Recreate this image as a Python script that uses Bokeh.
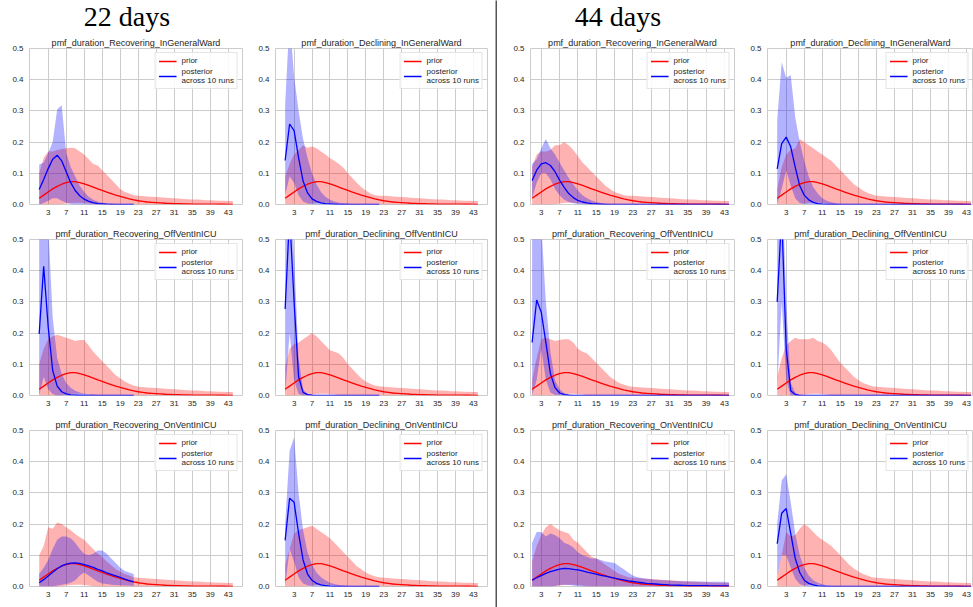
from bokeh.plotting import figure
from bokeh.models import Range1d, FixedTicker, PrintfTickFormatter, Legend, LegendItem, Div
from bokeh.layouts import row, column
from bokeh.embed import file_html
from bokeh.resources import INLINE

# ---------------- data ----------------
days = [1, 2, 3, 4, 5, 6, 7, 8, 9, 10, 11,
        12, 13, 14, 15, 16, 17, 18, 19, 20, 21, 22,
        23, 24, 25, 26, 27, 28, 29, 30, 31, 32, 33,
        34, 35, 36, 37, 38, 39, 40, 41, 42, 43, 44]
x_ticks = [3, 7, 11, 15, 19, 23, 27, 31, 35, 39, 43]
y_ticks = [0.0, 0.1, 0.2, 0.3, 0.4, 0.5]
group_titles = ["22 days", "44 days"]
panel_titles = ["pmf_duration_Recovering_InGeneralWard", "pmf_duration_Declining_InGeneralWard",
                "pmf_duration_Recovering_OffVentInICU", "pmf_duration_Declining_OffVentInICU",
                "pmf_duration_Recovering_OnVentInICU", "pmf_duration_Declining_OnVentInICU"]
legend_labels = ["prior", "posterior\nacross 10 runs"]

prior_mean = [0.020, 0.030, 0.040, 0.050, 0.058, 0.065, 0.070, 0.073, 0.073, 0.070, 0.066,
              0.061, 0.056, 0.050, 0.045, 0.040, 0.035, 0.030, 0.026, 0.022, 0.018, 0.015,
              0.012, 0.010, 0.008, 0.007, 0.006, 0.005, 0.004, 0.0035, 0.003, 0.0025, 0.002,
              0.002, 0.0015, 0.0015, 0.001, 0.001, 0.001, 0.001, 0.0008, 0.0008, 0.0007, 0.0007]
prior_lo = [0, 0, 0, 0, 0, 0.001, 0.003, 0.005, 0.006, 0.006, 0.005,
            0.003, 0.001, 0, 0, 0, 0, 0, 0, 0, 0, 0,
            0, 0, 0, 0, 0, 0, 0, 0, 0, 0, 0,
            0, 0, 0, 0, 0, 0, 0, 0, 0, 0, 0]
prior_hi_tail = [0.028, 0.027, 0.026, 0.025, 0.024, 0.023, 0.022, 0.021, 0.020, 0.019, 0.018,
                 0.017, 0.016, 0.016, 0.015, 0.014, 0.014, 0.013, 0.012, 0.012, 0.011, 0.011]

# ----- 22 days -----
d22_rec_ward_prior_hi = [0.10, 0.15, 0.17, 0.17, 0.175, 0.178, 0.18, 0.182, 0.18, 0.17, 0.16,
                         0.145, 0.13, 0.125, 0.11, 0.095, 0.08, 0.065, 0.05, 0.04, 0.035, 0.03]
d22_rec_ward_mean = [0.048, 0.08, 0.115, 0.145, 0.158, 0.14, 0.105, 0.07, 0.045, 0.028, 0.017,
                     0.01, 0.006, 0.003, 0.002, 0.001, 0.0005, 0, 0, 0, 0, 0]
d22_rec_ward_lo = [0, 0.005, 0.012, 0.02, 0.02, 0.012, 0.006, 0.002, 0, 0, 0,
                   0, 0, 0, 0, 0, 0, 0, 0, 0, 0, 0]
d22_rec_ward_hi = [0.128, 0.135, 0.165, 0.2, 0.305, 0.318, 0.165, 0.12, 0.09, 0.06, 0.04,
                   0.025, 0.015, 0.01, 0.006, 0.004, 0.003, 0.002, 0.002, 0.001, 0.001, 0.001]

d22_dec_ward_prior_hi = [0.09, 0.13, 0.16, 0.175, 0.19, 0.182, 0.186, 0.18, 0.17, 0.16, 0.148,
                         0.14, 0.13, 0.118, 0.1, 0.085, 0.07, 0.055, 0.045, 0.035, 0.03, 0.028]
d22_dec_ward_mean = [0.141, 0.258, 0.237, 0.15, 0.075, 0.037, 0.018, 0.01, 0.005, 0.003, 0.002,
                     0.001, 0, 0, 0, 0, 0, 0, 0, 0, 0, 0]
d22_dec_ward_lo = [0.03, 0.09, 0.07, 0.03, 0.01, 0.003, 0, 0, 0, 0, 0,
                   0, 0, 0, 0, 0, 0, 0, 0, 0, 0, 0]
d22_dec_ward_hi = [0.32, 0.6, 0.41, 0.3, 0.21, 0.15, 0.1, 0.065, 0.04, 0.025, 0.015,
                   0.01, 0.006, 0.004, 0.003, 0.002, 0.001, 0.001, 0.001, 0.001, 0.001, 0.001]

d22_rec_off_prior_hi = [0.10, 0.15, 0.18, 0.19, 0.195, 0.19, 0.185, 0.18, 0.175, 0.178, 0.178,
                        0.16, 0.14, 0.125, 0.11, 0.095, 0.08, 0.065, 0.055, 0.045, 0.038, 0.032]
d22_rec_off_mean = [0.197, 0.414, 0.22, 0.08, 0.03, 0.012, 0.005, 0.002, 0.001, 0, 0,
                    0, 0, 0, 0, 0, 0, 0, 0, 0, 0, 0]
d22_rec_off_lo = [0, 0.06, 0.02, 0.005, 0, 0, 0, 0, 0, 0, 0,
                  0, 0, 0, 0, 0, 0, 0, 0, 0, 0, 0]
d22_rec_off_hi = [0.6, 0.65, 0.55, 0.25, 0.12, 0.07, 0.04, 0.025, 0.015, 0.01, 0.006,
                  0.004, 0.003, 0.002, 0.001, 0.001, 0.001, 0.001, 0.001, 0.001, 0.001, 0.001]

d22_dec_off_prior_hi = [0.09, 0.15, 0.165, 0.17, 0.18, 0.19, 0.2, 0.19, 0.175, 0.16, 0.145,
                        0.14, 0.135, 0.12, 0.1, 0.085, 0.07, 0.055, 0.045, 0.038, 0.032, 0.03]
d22_dec_off_mean = [0.277, 0.58, 0.3, 0.06, 0.01, 0.003, 0.001, 0, 0, 0, 0,
                    0, 0, 0, 0, 0, 0, 0, 0, 0, 0, 0]
d22_dec_off_lo = [0, 0.2, 0.05, 0.005, 0, 0, 0, 0, 0, 0, 0,
                  0, 0, 0, 0, 0, 0, 0, 0, 0, 0, 0]
d22_dec_off_hi = [0.55, 0.75, 0.45, 0.12, 0.02, 0.005, 0.002, 0, 0, 0, 0,
                  0, 0, 0, 0, 0, 0, 0, 0, 0, 0, 0]

d22_rec_on_prior_hi = [0.10, 0.13, 0.19, 0.185, 0.205, 0.2, 0.19, 0.18, 0.168, 0.158, 0.15,
                       0.135, 0.12, 0.105, 0.095, 0.08, 0.068, 0.055, 0.047, 0.04, 0.035, 0.03]
d22_rec_on_mean = [0.012, 0.022, 0.034, 0.046, 0.057, 0.066, 0.072, 0.075, 0.076, 0.074, 0.070,
                   0.066, 0.061, 0.055, 0.050, 0.044, 0.039, 0.034, 0.029, 0.024, 0.019, 0.015]
d22_rec_on_lo = [0, 0, 0, 0, 0.003, 0.006, 0.008, 0.012, 0.02, 0.035, 0.045,
                 0.035, 0.025, 0.015, 0.01, 0.008, 0.006, 0.005, 0.004, 0.003, 0.003, 0.002]
d22_rec_on_hi = [0.04, 0.06, 0.085, 0.12, 0.15, 0.16, 0.16, 0.155, 0.14, 0.12, 0.105,
                 0.1, 0.105, 0.115, 0.115, 0.105, 0.09, 0.075, 0.06, 0.05, 0.045, 0.04]

d22_dec_on_prior_hi = [0.07, 0.12, 0.17, 0.18, 0.185, 0.19, 0.195, 0.185, 0.175, 0.165, 0.155,
                       0.14, 0.125, 0.11, 0.095, 0.08, 0.065, 0.055, 0.045, 0.038, 0.033, 0.03]
d22_dec_on_mean = [0.148, 0.283, 0.27, 0.17, 0.085, 0.04, 0.02, 0.01, 0.005, 0.003, 0.001,
                   0, 0, 0, 0, 0, 0, 0, 0, 0, 0, 0]
d22_dec_on_lo = [0, 0.12, 0.08, 0.03, 0.01, 0.004, 0.001, 0, 0, 0, 0,
                 0, 0, 0, 0, 0, 0, 0, 0, 0, 0, 0]
d22_dec_on_hi = [0.2, 0.435, 0.478, 0.3, 0.18, 0.11, 0.07, 0.045, 0.03, 0.02, 0.012,
                 0.008, 0.005, 0.003, 0.002, 0.001, 0.001, 0.001, 0.001, 0.001, 0.001, 0.001]

# ----- 44 days -----
d44_rec_ward_prior_hi = [0.12, 0.16, 0.17, 0.17, 0.175, 0.19, 0.19, 0.2, 0.19, 0.175, 0.155,
                         0.135, 0.12, 0.105, 0.09, 0.075, 0.06, 0.05, 0.04, 0.035, 0.03, 0.028]
d44_rec_ward_mean = [0.077, 0.11, 0.13, 0.134, 0.125, 0.105, 0.078, 0.055, 0.035, 0.022, 0.013,
                     0.008, 0.005, 0.003, 0.002, 0.001, 0, 0, 0, 0, 0, 0,
                     0, 0, 0, 0, 0, 0, 0, 0, 0, 0, 0,
                     0, 0, 0, 0, 0, 0, 0, 0, 0, 0, 0]
d44_rec_ward_lo = [0.02, 0.07, 0.1, 0.1, 0.08, 0.05, 0.03, 0.015, 0.008, 0.004, 0.002,
                   0, 0, 0, 0, 0, 0, 0, 0, 0, 0, 0,
                   0, 0, 0, 0, 0, 0, 0, 0, 0, 0, 0,
                   0, 0, 0, 0, 0, 0, 0, 0, 0, 0, 0]
d44_rec_ward_hi = [0.13, 0.145, 0.18, 0.21, 0.18, 0.16, 0.135, 0.11, 0.085, 0.065, 0.045,
                   0.03, 0.02, 0.013, 0.008, 0.005, 0.003, 0.002, 0.001, 0, 0, 0,
                   0, 0, 0, 0, 0, 0, 0, 0, 0, 0, 0,
                   0, 0, 0, 0, 0, 0, 0, 0, 0, 0, 0]

d44_dec_ward_prior_hi = [0.05, 0.12, 0.16, 0.175, 0.18, 0.21, 0.2, 0.19, 0.18, 0.17, 0.16,
                         0.15, 0.14, 0.125, 0.11, 0.095, 0.08, 0.065, 0.055, 0.045, 0.038, 0.032]
d44_dec_ward_mean = [0.114, 0.195, 0.216, 0.185, 0.12, 0.06, 0.03, 0.015, 0.007, 0.003, 0.001,
                     0, 0, 0, 0, 0, 0, 0, 0, 0, 0, 0,
                     0, 0, 0, 0, 0, 0, 0, 0, 0, 0, 0,
                     0, 0, 0, 0, 0, 0, 0, 0, 0, 0, 0]
d44_dec_ward_lo = [0, 0.05, 0.11, 0.06, 0.02, 0.005, 0.001, 0, 0, 0, 0,
                   0, 0, 0, 0, 0, 0, 0, 0, 0, 0, 0,
                   0, 0, 0, 0, 0, 0, 0, 0, 0, 0, 0,
                   0, 0, 0, 0, 0, 0, 0, 0, 0, 0, 0]
d44_dec_ward_hi = [0.27, 0.456, 0.406, 0.415, 0.28, 0.2, 0.14, 0.09, 0.055, 0.035, 0.02,
                   0.012, 0.007, 0.004, 0.002, 0.001, 0, 0, 0, 0, 0, 0,
                   0, 0, 0, 0, 0, 0, 0, 0, 0, 0, 0,
                   0, 0, 0, 0, 0, 0, 0, 0, 0, 0, 0]

d44_rec_off_prior_hi = [0.05, 0.12, 0.18, 0.185, 0.18, 0.175, 0.178, 0.18, 0.18, 0.17, 0.15,
                        0.14, 0.135, 0.12, 0.105, 0.09, 0.075, 0.06, 0.05, 0.04, 0.035, 0.03]
d44_rec_off_mean = [0.17, 0.306, 0.267, 0.17, 0.07, 0.025, 0.008, 0.003, 0.001, 0, 0,
                    0, 0, 0, 0, 0, 0, 0, 0, 0, 0, 0,
                    0, 0, 0, 0, 0, 0, 0, 0, 0, 0, 0,
                    0, 0, 0, 0, 0, 0, 0, 0, 0, 0, 0]
d44_rec_off_lo = [0, 0.05, 0.15, 0.05, 0.01, 0.002, 0, 0, 0, 0, 0,
                  0, 0, 0, 0, 0, 0, 0, 0, 0, 0, 0,
                  0, 0, 0, 0, 0, 0, 0, 0, 0, 0, 0,
                  0, 0, 0, 0, 0, 0, 0, 0, 0, 0, 0]
d44_rec_off_hi = [0.55, 0.65, 0.55, 0.3, 0.14, 0.05, 0.02, 0.008, 0.004, 0.002, 0.001,
                  0, 0, 0, 0, 0, 0, 0, 0, 0, 0, 0,
                  0, 0, 0, 0, 0, 0, 0, 0, 0, 0, 0,
                  0, 0, 0, 0, 0, 0, 0, 0, 0, 0, 0]

d44_dec_off_prior_hi = [0.06, 0.12, 0.16, 0.175, 0.185, 0.18, 0.18, 0.18, 0.185, 0.175, 0.17,
                        0.16, 0.145, 0.125, 0.105, 0.09, 0.075, 0.06, 0.05, 0.04, 0.035, 0.03]
d44_dec_off_mean = [0.3, 0.58, 0.15, 0.015, 0.003, 0, 0, 0, 0, 0, 0,
                    0, 0, 0, 0, 0, 0, 0, 0, 0, 0, 0,
                    0, 0, 0, 0, 0, 0, 0, 0, 0, 0, 0,
                    0, 0, 0, 0, 0, 0, 0, 0, 0, 0, 0]
d44_dec_off_lo = [0.03, 0.3, 0.05, 0, 0, 0, 0, 0, 0, 0, 0,
                  0, 0, 0, 0, 0, 0, 0, 0, 0, 0, 0,
                  0, 0, 0, 0, 0, 0, 0, 0, 0, 0, 0,
                  0, 0, 0, 0, 0, 0, 0, 0, 0, 0, 0]
d44_dec_off_hi = [0.5, 0.75, 0.3, 0.04, 0.01, 0.002, 0, 0, 0, 0, 0,
                  0, 0, 0, 0, 0, 0, 0, 0, 0, 0, 0,
                  0, 0, 0, 0, 0, 0, 0, 0, 0, 0, 0,
                  0, 0, 0, 0, 0, 0, 0, 0, 0, 0, 0]

d44_rec_on_prior_hi = [0.08, 0.13, 0.165, 0.19, 0.2, 0.19, 0.18, 0.175, 0.17, 0.15, 0.14,
                       0.125, 0.11, 0.095, 0.09, 0.08, 0.07, 0.06, 0.05, 0.04, 0.035, 0.03]
d44_rec_on_mean = [0.02, 0.028, 0.035, 0.042, 0.048, 0.052, 0.056, 0.058, 0.057, 0.055, 0.053,
                   0.05, 0.046, 0.043, 0.040, 0.036, 0.033, 0.030, 0.027, 0.024, 0.021, 0.018,
                   0.016, 0.014, 0.012, 0.010, 0.009, 0.008, 0.007, 0.006, 0.005, 0.0045, 0.004,
                   0.0035, 0.003, 0.003, 0.003, 0.0025, 0.0025, 0.002, 0.002, 0.002, 0.002, 0.002]
d44_rec_on_lo = [0, 0, 0, 0, 0, 0.002, 0.005, 0.006, 0.005, 0.003, 0.001,
                 0, 0, 0, 0, 0, 0, 0, 0, 0, 0, 0,
                 0, 0, 0, 0, 0, 0, 0, 0, 0, 0, 0,
                 0, 0, 0, 0, 0, 0, 0, 0, 0, 0, 0]
d44_rec_on_hi = [0.14, 0.175, 0.175, 0.16, 0.17, 0.165, 0.155, 0.14, 0.135, 0.125, 0.11,
                 0.1, 0.095, 0.09, 0.09, 0.085, 0.08, 0.078, 0.075, 0.065, 0.055, 0.045,
                 0.035, 0.03, 0.027, 0.025, 0.023, 0.022, 0.021, 0.02, 0.019, 0.018, 0.018,
                 0.017, 0.017, 0.016, 0.016, 0.016, 0.015, 0.015, 0.015, 0.015, 0.015, 0.014]

d44_dec_on_prior_hi = [0.03, 0.1, 0.175, 0.16, 0.165, 0.185, 0.2, 0.19, 0.175, 0.16, 0.15,
                       0.14, 0.13, 0.115, 0.1, 0.085, 0.07, 0.058, 0.048, 0.04, 0.035, 0.03]
d44_dec_on_mean = [0.137, 0.235, 0.25, 0.17, 0.09, 0.045, 0.02, 0.01, 0.005, 0.002, 0.001,
                   0, 0, 0, 0, 0, 0, 0, 0, 0, 0, 0,
                   0, 0, 0, 0, 0, 0, 0, 0, 0, 0, 0,
                   0, 0, 0, 0, 0, 0, 0, 0, 0, 0, 0]
d44_dec_on_lo = [0.03, 0.1, 0.1, 0.06, 0.025, 0.008, 0.002, 0, 0, 0, 0,
                 0, 0, 0, 0, 0, 0, 0, 0, 0, 0, 0,
                 0, 0, 0, 0, 0, 0, 0, 0, 0, 0, 0,
                 0, 0, 0, 0, 0, 0, 0, 0, 0, 0, 0]
d44_dec_on_hi = [0.2, 0.34, 0.36, 0.27, 0.17, 0.1, 0.06, 0.035, 0.02, 0.012, 0.007,
                 0.004, 0.002, 0.001, 0, 0, 0, 0, 0, 0, 0, 0,
                 0, 0, 0, 0, 0, 0, 0, 0, 0, 0, 0,
                 0, 0, 0, 0, 0, 0, 0, 0, 0, 0, 0]

# ---------------- styling ----------------
FONT = "Liberation Sans"
TXT = "#262626"
GRID = "#cccccc"
FIG_H = 191
B_TOP = 16
B_BOT = 19


def panel(title, prior_hi_head, p_mean, p_lo, p_hi, x_rng, b_left, frame_w, b_right):
    p = figure(width=b_left + frame_w + b_right, height=FIG_H,
               x_range=Range1d(*x_rng), y_range=Range1d(0, 0.5),
               output_backend="svg", toolbar_location=None,
               min_border_left=b_left, min_border_right=b_right,
               min_border_top=B_TOP, min_border_bottom=B_BOT, title=title)
    p.title.align = "center"
    p.title.text_font = FONT
    p.title.text_font_size = "9px"
    p.title.text_font_style = "normal"
    p.title.text_color = TXT
    p.title.standoff = 2
    p.background_fill_color = "white"
    p.border_fill_color = "white"
    p.outline_line_color = GRID
    p.outline_line_width = 1
    p.xaxis.ticker = FixedTicker(ticks=x_ticks)
    p.yaxis.ticker = FixedTicker(ticks=y_ticks)
    p.xgrid.ticker = FixedTicker(ticks=x_ticks)
    p.ygrid.ticker = FixedTicker(ticks=y_ticks)
    p.yaxis.formatter = PrintfTickFormatter(format="%.1f")
    for ax in list(p.xaxis) + list(p.yaxis):
        ax.axis_line_color = None
        ax.major_tick_line_color = None
        ax.minor_tick_line_color = None
        ax.major_tick_out = 0
        ax.major_tick_in = 0
        ax.minor_tick_out = 0
        ax.minor_tick_in = 0
        ax.major_label_text_font = FONT
        ax.major_label_text_font_size = "8px"
        ax.major_label_text_color = TXT
    p.xaxis.major_label_standoff = 5
    p.yaxis.major_label_standoff = 6
    p.grid.grid_line_color = GRID
    p.grid.grid_line_width = 1

    n = len(p_mean)
    prior_hi = prior_hi_head + prior_hi_tail
    p.varea(x=days, y1=prior_lo, y2=prior_hi, fill_color="red", fill_alpha=0.3)
    p.varea(x=days[:n], y1=p_lo, y2=p_hi, fill_color="blue", fill_alpha=0.3)
    r_prior = p.line(days, prior_mean, line_color="red", line_width=1.3)
    r_post = p.line(days[:n], p_mean, line_color="blue", line_width=1.3)

    leg = Legend(items=[LegendItem(label=legend_labels[0], renderers=[r_prior]),
                        LegendItem(label=legend_labels[1], renderers=[r_post])],
                 location="top_right")
    leg.margin = 4
    leg.padding = 3
    leg.spacing = 2
    leg.label_text_font = FONT
    leg.label_text_font_size = "8px"
    leg.label_text_color = TXT
    leg.label_height = 8
    leg.glyph_height = 8
    leg.glyph_width = 18
    leg.label_standoff = 5
    leg.border_line_color = GRID
    leg.background_fill_alpha = 0.85
    p.add_layout(leg)
    return p


def header(text, box_w):
    return Div(text=text, width=box_w, height=32, margin=0,
               styles={"font-family": "'Liberation Serif', serif", "font-size": "28px",
                       "line-height": "32px", "padding-top": "1px", "text-align": "center",
                       "color": "black", "white-space": "nowrap", "overflow": "visible"})


X22 = (-1.15, 46.15)
X44_A = (0.65, 45.2)
X44_B = (-1.15, 44.55)

left_sets = [
    (d22_rec_ward_prior_hi, d22_rec_ward_mean, d22_rec_ward_lo, d22_rec_ward_hi),
    (d22_dec_ward_prior_hi, d22_dec_ward_mean, d22_dec_ward_lo, d22_dec_ward_hi),
    (d22_rec_off_prior_hi, d22_rec_off_mean, d22_rec_off_lo, d22_rec_off_hi),
    (d22_dec_off_prior_hi, d22_dec_off_mean, d22_dec_off_lo, d22_dec_off_hi),
    (d22_rec_on_prior_hi, d22_rec_on_mean, d22_rec_on_lo, d22_rec_on_hi),
    (d22_dec_on_prior_hi, d22_dec_on_mean, d22_dec_on_lo, d22_dec_on_hi),
]
right_sets = [
    (d44_rec_ward_prior_hi, d44_rec_ward_mean, d44_rec_ward_lo, d44_rec_ward_hi),
    (d44_dec_ward_prior_hi, d44_dec_ward_mean, d44_dec_ward_lo, d44_dec_ward_hi),
    (d44_rec_off_prior_hi, d44_rec_off_mean, d44_rec_off_lo, d44_rec_off_hi),
    (d44_dec_off_prior_hi, d44_dec_off_mean, d44_dec_off_lo, d44_dec_off_hi),
    (d44_rec_on_prior_hi, d44_rec_on_mean, d44_rec_on_lo, d44_rec_on_hi),
    (d44_dec_on_prior_hi, d44_dec_on_mean, d44_dec_on_lo, d44_dec_on_hi),
]

left_rows = []
right_rows = []
for r in range(3):
    i, j = 2 * r, 2 * r + 1
    a = panel(panel_titles[i], *left_sets[i], X22, 29, 213, 4)
    b = panel(panel_titles[j], *left_sets[j], X22, 29, 212, 8)
    left_rows.append(row(a, b))
    c = panel(panel_titles[i], *right_sets[i], X44_A, 33, 204, 3)
    d = panel(panel_titles[j], *right_sets[j], X44_B, 30, 206, 0)
    right_rows.append(row(c, d))

sep = figure(width=2, height=607, x_axis_type=None, y_axis_type=None,
             output_backend="svg", toolbar_location=None, min_border=0, title=None)
sep.outline_line_color = None
sep.background_fill_color = "#555555"
sep.border_fill_color = "#555555"

left_block = column(header(group_titles[0], 254), *left_rows)
right_block = column(header(group_titles[1], 242), *right_rows)
layout = row(left_block, sep, right_block)

open("out.html", "w").write(file_html(layout, INLINE))
